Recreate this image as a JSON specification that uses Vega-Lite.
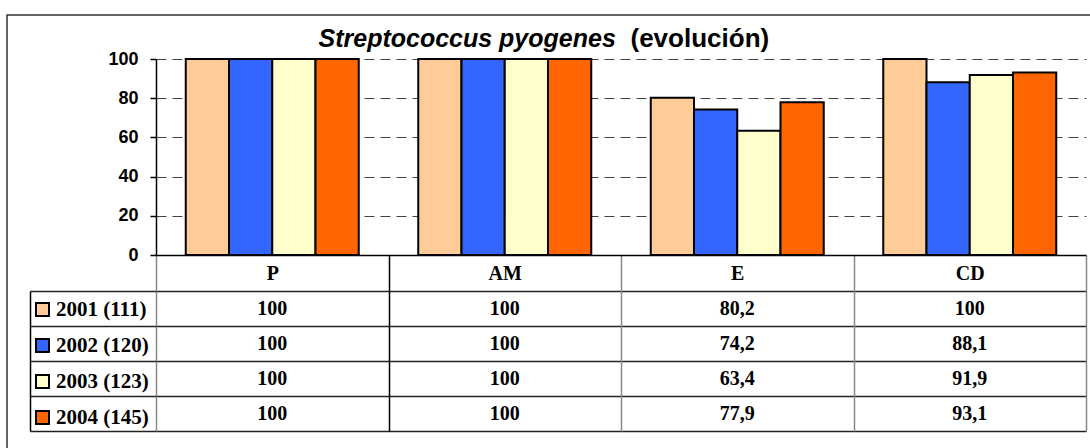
{
  "$schema": "https://vega.github.io/schema/vega-lite/v6.json",
  "autosize": "none",
  "width": 1090,
  "height": 440,
  "padding": {"left": 7, "top": 15, "right": 0, "bottom": 0},
  "background": "white",
  "config": {
    "view": {"stroke": "#333333", "strokeWidth": 1.5, "fill": "white"},
    "locale": {"number": {"decimal": ",", "thousands": ".", "grouping": [3], "currency": ["", " €"]}}
  },
  "data": {
    "values": [
      {"antibiotic": "P", "year": "2001 (111)", "value": 100},
      {"antibiotic": "P", "year": "2002 (120)", "value": 100},
      {"antibiotic": "P", "year": "2003 (123)", "value": 100},
      {"antibiotic": "P", "year": "2004 (145)", "value": 100},
      {"antibiotic": "AM", "year": "2001 (111)", "value": 100},
      {"antibiotic": "AM", "year": "2002 (120)", "value": 100},
      {"antibiotic": "AM", "year": "2003 (123)", "value": 100},
      {"antibiotic": "AM", "year": "2004 (145)", "value": 100},
      {"antibiotic": "E", "year": "2001 (111)", "value": 80.2},
      {"antibiotic": "E", "year": "2002 (120)", "value": 74.2},
      {"antibiotic": "E", "year": "2003 (123)", "value": 63.4},
      {"antibiotic": "E", "year": "2004 (145)", "value": 77.9},
      {"antibiotic": "CD", "year": "2001 (111)", "value": 100},
      {"antibiotic": "CD", "year": "2002 (120)", "value": 88.1},
      {"antibiotic": "CD", "year": "2003 (123)", "value": 91.9},
      {"antibiotic": "CD", "year": "2004 (145)", "value": 93.1}
    ]
  },
  "encoding": {
    "x": {
      "field": "antibiotic",
      "type": "nominal",
      "sort": ["P", "AM", "E", "CD"],
      "scale": {"range": [149, 1079], "paddingInner": 0, "paddingOuter": 0},
      "axis": {
        "orient": "bottom",
        "offset": -200,
        "title": null,
        "grid": false,
        "domain": true,
        "domainColor": "#000000",
        "domainWidth": 1.5,
        "ticks": true,
        "tickBand": "extent",
        "tickSize": 176,
        "tickWidth": 1.5,
        "tickColor": {"condition": {"test": "datum.value === 'P'", "value": "#000000"}, "value": "#888888"},
        "labelFont": "Liberation Serif",
        "labelFontWeight": "bold",
        "labelFontSize": 20,
        "labelColor": "#000000",
        "labelBaseline": "middle",
        "labelPadding": -158,
        "labelAngle": 0
      }
    }
  },
  "layer": [
    {
      "mark": {"type": "bar", "stroke": "#000000", "strokeWidth": 2},
      "encoding": {
        "xOffset": {
          "field": "year",
          "type": "nominal",
          "scale": {"paddingInner": 0, "paddingOuter": 0.688}
        },
        "y": {
          "field": "value",
          "type": "quantitative",
          "scale": {"domain": [0, 100], "range": [240, 44], "nice": false},
          "axis": {
            "orient": "left",
            "offset": -149,
            "values": [0, 20, 40, 60, 80, 100],
            "domain": true,
            "domainColor": "#000000",
            "domainWidth": 1.5,
            "ticks": true,
            "tickSize": 6,
            "tickColor": "#000000",
            "tickWidth": 1.5,
            "labelFont": "Liberation Sans",
            "labelFontWeight": "bold",
            "labelFontSize": 18,
            "labelColor": "#000000",
            "labelPadding": 12,
            "grid": true,
            "gridColor": "#444444",
            "gridDash": [10, 6],
            "gridWidth": 1.2,
            "gridOpacity": {"condition": {"test": "datum.value === 0", "value": 0}, "value": 1},
            "title": "(evolución)",
            "titleAngle": 0,
            "titleX": 474,
            "titleY": 31,
            "titleAlign": "left",
            "titleBaseline": "alphabetic",
            "titleFont": "Liberation Sans",
            "titleFontWeight": "bold",
            "titleFontSize": 26,
            "titleColor": "#000000"
          }
        },
        "color": {
          "field": "year",
          "type": "nominal",
          "scale": {
            "domain": ["2001 (111)", "2002 (120)", "2003 (123)", "2004 (145)"],
            "range": ["#FFCC99", "#3366FF", "#FFFFCC", "#FF6600"]
          },
          "legend": {
            "orient": "none",
            "legendX": 25,
            "legendY": 284,
            "title": null,
            "padding": 0,
            "symbolType": "square",
            "symbolSize": 169,
            "symbolStrokeColor": "#000000",
            "symbolStrokeWidth": 2,
            "symbolOpacity": 1,
            "labelFont": "Liberation Serif",
            "labelFontWeight": "bold",
            "labelFontSize": 21,
            "labelColor": "#000000",
            "labelOffset": 3,
            "rowPadding": 14
          }
        }
      }
    },
    {
      "mark": {"type": "text", "font": "Liberation Serif", "fontWeight": "bold", "fontSize": 20, "color": "#000000", "baseline": "middle", "align": "center"},
      "encoding": {
        "y": {
          "field": "year",
          "type": "nominal",
          "scale": {
            "domain": ["2001 (111)", "2002 (120)", "2003 (123)", "2004 (145)"],
            "range": [276, 416],
            "paddingInner": 0,
            "paddingOuter": 0
          },
          "axis": {
            "orient": "left",
            "offset": -23,
            "labels": false,
            "domain": true,
            "domainColor": "#000000",
            "domainWidth": 1.5,
            "ticks": true,
            "tickBand": "extent",
            "tickSize": -126,
            "tickColor": "#222222",
            "tickWidth": 1.5,
            "grid": true,
            "gridColor": "#222222",
            "gridWidth": 1.5,
            "title": "Streptococcus pyogenes",
            "titleAngle": 0,
            "titleX": 288,
            "titleY": 31,
            "titleAlign": "left",
            "titleBaseline": "alphabetic",
            "titleFont": "Liberation Sans",
            "titleFontWeight": "bold",
            "titleFontStyle": "italic",
            "titleFontSize": 25,
            "titleColor": "#000000"
          }
        },
        "text": {"field": "value", "type": "quantitative", "format": "~g"}
      }
    }
  ],
  "resolve": {"scale": {"y": "independent"}, "axis": {"y": "independent"}}
}
